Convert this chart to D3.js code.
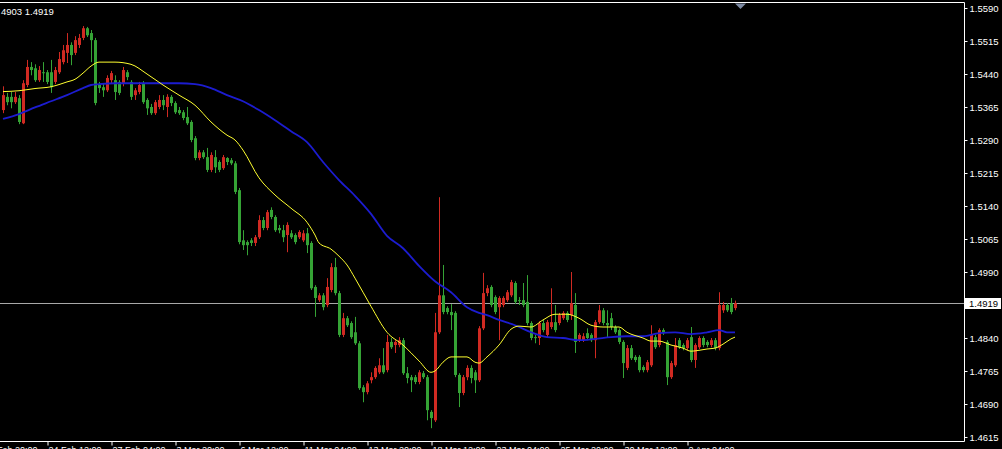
<!DOCTYPE html>
<html><head><meta charset="utf-8">
<script src="https://cdn.jsdelivr.net/npm/d3@7"></script>
<style>
html,body{margin:0;padding:0;background:#000;overflow:hidden;}
svg{display:block;}
text{font-family:"Liberation Sans",Arial,sans-serif;}
</style></head>
<body><svg id="c" width="1002" height="449"></svg>
<script>
const opens=[1.5358,1.5388,1.5388,1.5376,1.5385,1.5328,1.5415,1.5456,1.5453,1.5426,
1.5444,1.5444,1.5444,1.5422,1.5444,1.5467,1.5488,1.5506,1.5488,1.5506,
1.5522,1.5544,1.5533,1.5517,1.5415,1.5410,1.5403,1.5426,1.5426,1.5422,
1.5419,1.5444,1.5422,1.5392,1.5399,1.5419,1.5381,1.5365,1.5351,1.5365,
1.5381,1.5365,1.5388,1.5374,1.5358,1.5353,1.5342,1.5331,1.5294,1.5249,
1.5262,1.5251,1.5222,1.5251,1.5240,1.5226,1.5249,1.5244,1.5237,1.5176,
1.5062,1.5058,1.5062,1.5056,1.5069,1.5108,1.5090,1.5131,1.5115,1.5090,
1.5085,1.5074,1.5078,1.5074,1.5069,1.5062,1.5078,1.5056,1.4956,1.4926,
1.4937,1.4915,1.4949,1.5001,1.4942,1.4847,1.4885,1.4874,1.4853,1.4828,
1.4728,1.4717,1.4744,1.4751,1.4762,1.4778,1.4767,1.4831,1.4824,1.4824,
1.4835,1.4760,1.4751,1.4751,1.4740,1.4760,1.4751,1.4672,1.4653,1.4853,
1.4937,1.4908,1.4899,1.4897,1.4756,1.4715,1.4751,1.4772,1.4762,1.4744,
1.4862,1.4942,1.4956,1.4933,1.4910,1.4915,1.4926,1.4937,1.4965,1.4926,
1.4926,1.4922,1.4874,1.4842,1.4840,1.4874,1.4847,1.4865,1.4876,1.4874,
1.4885,1.4897,1.4892,1.4915,1.4835,1.4835,1.4851,1.4847,1.4835,1.4876,
1.4903,1.4874,1.4885,1.4865,1.4858,1.4831,1.4772,1.4817,1.4797,1.4797,
1.4774,1.4767,1.4778,1.4842,1.4824,1.4858,1.4831,1.4751,1.4778,1.4835,
1.4824,1.4817,1.4842,1.4790,1.4819,1.4840,1.4831,1.4824,1.4835,1.4817,
1.4903,1.4915,1.4919,1.4908];
const highs=[1.5412,1.5397,1.5399,1.5399,1.5392,1.5426,1.5472,1.5467,1.5462,1.5458,
1.5467,1.5449,1.5472,1.5456,1.5490,1.5506,1.5533,1.5512,1.5526,1.5531,
1.5549,1.5547,1.5540,1.5522,1.5422,1.5417,1.5437,1.5447,1.5437,1.5426,
1.5456,1.5449,1.5426,1.5408,1.5422,1.5424,1.5385,1.5372,1.5381,1.5392,
1.5392,1.5394,1.5392,1.5378,1.5365,1.5358,1.5365,1.5335,1.5299,1.5267,
1.5267,1.5272,1.5262,1.5267,1.5244,1.5256,1.5251,1.5249,1.5242,1.5181,
1.5085,1.5062,1.5067,1.5074,1.5119,1.5115,1.5131,1.5137,1.5119,1.5097,
1.5097,1.5103,1.5085,1.5078,1.5085,1.5085,1.5090,1.5060,1.4960,1.4942,
1.4942,1.4976,1.5010,1.5022,1.4947,1.4897,1.4890,1.4878,1.4888,1.4833,
1.4733,1.4742,1.4762,1.4776,1.4794,1.4817,1.4847,1.4840,1.4835,1.4842,
1.4840,1.4774,1.4756,1.4756,1.4767,1.4765,1.4756,1.4676,1.4897,1.5160,
1.5006,1.4912,1.4917,1.4901,1.4760,1.4756,1.4778,1.4778,1.4767,1.4867,
1.4988,1.4960,1.4960,1.4937,1.4935,1.4935,1.4949,1.4972,1.4969,1.4933,
1.4965,1.4983,1.4878,1.4847,1.4878,1.4881,1.4881,1.4953,1.4915,1.4897,
1.4901,1.4901,1.4990,1.4942,1.4851,1.4851,1.4862,1.4851,1.4881,1.4915,
1.4908,1.4903,1.4897,1.4869,1.4862,1.4835,1.4824,1.4824,1.4801,1.4801,
1.4778,1.4790,1.4869,1.4847,1.4862,1.4862,1.4835,1.4788,1.4840,1.4840,
1.4828,1.4840,1.4865,1.4828,1.4844,1.4844,1.4835,1.4840,1.4840,1.4944,
1.4922,1.4919,1.4931,1.4925];
const lows=[1.5351,1.5369,1.5362,1.5372,1.5326,1.5326,1.5410,1.5437,1.5422,1.5422,
1.5422,1.5417,1.5397,1.5417,1.5440,1.5462,1.5465,1.5460,1.5483,1.5499,
1.5517,1.5524,1.5467,1.5369,1.5397,1.5388,1.5399,1.5419,1.5381,1.5392,
1.5412,1.5426,1.5381,1.5381,1.5394,1.5372,1.5347,1.5347,1.5347,1.5360,
1.5358,1.5342,1.5367,1.5349,1.5347,1.5335,1.5324,1.5285,1.5244,1.5244,
1.5247,1.5217,1.5217,1.5215,1.5217,1.5222,1.5233,1.5233,1.5167,1.5053,
1.5040,1.5028,1.5049,1.5049,1.5065,1.5085,1.5085,1.5110,1.5081,1.5078,
1.5058,1.5035,1.5065,1.5053,1.5065,1.5058,1.5033,1.4949,1.4888,1.4922,
1.4903,1.4910,1.4944,1.4937,1.4842,1.4842,1.4865,1.4838,1.4824,1.4722,
1.4694,1.4712,1.4737,1.4747,1.4758,1.4758,1.4762,1.4815,1.4806,1.4819,
1.4756,1.4737,1.4717,1.4735,1.4735,1.4747,1.4653,1.4635,1.4649,1.4849,
1.4894,1.4894,1.4858,1.4751,1.4683,1.4710,1.4744,1.4737,1.4715,1.4740,
1.4858,1.4935,1.4910,1.4894,1.4835,1.4910,1.4922,1.4933,1.4917,1.4915,
1.4910,1.4869,1.4835,1.4828,1.4824,1.4853,1.4842,1.4860,1.4853,1.4869,
1.4881,1.4876,1.4881,1.4806,1.4831,1.4831,1.4835,1.4831,1.4794,1.4872,
1.4869,1.4842,1.4858,1.4849,1.4826,1.4749,1.4767,1.4790,1.4785,1.4762,
1.4762,1.4762,1.4774,1.4815,1.4819,1.4847,1.4733,1.4747,1.4774,1.4815,
1.4812,1.4812,1.4785,1.4772,1.4815,1.4819,1.4819,1.4819,1.4812,1.4812,
1.4897,1.4899,1.4894,1.4903];
const closes=[1.5392,1.5376,1.5376,1.5388,1.5331,1.5419,1.5456,1.5449,1.5426,1.5449,
1.5442,1.5422,1.5410,1.5449,1.5474,1.5494,1.5506,1.5483,1.5517,1.5522,
1.5544,1.5528,1.5517,1.5374,1.5408,1.5403,1.5431,1.5442,1.5399,1.5397,
1.5449,1.5433,1.5388,1.5403,1.5415,1.5376,1.5362,1.5351,1.5376,1.5381,
1.5369,1.5388,1.5374,1.5353,1.5351,1.5340,1.5328,1.5290,1.5249,1.5262,
1.5251,1.5222,1.5256,1.5228,1.5222,1.5251,1.5240,1.5237,1.5172,1.5058,
1.5051,1.5051,1.5056,1.5069,1.5108,1.5090,1.5126,1.5115,1.5085,1.5085,
1.5069,1.5097,1.5069,1.5058,1.5081,1.5078,1.5051,1.4953,1.4931,1.4937,
1.4910,1.4956,1.5001,1.4942,1.4847,1.4885,1.4869,1.4842,1.4828,1.4726,
1.4717,1.4737,1.4751,1.4772,1.4778,1.4762,1.4831,1.4819,1.4831,1.4835,
1.4760,1.4749,1.4744,1.4740,1.4762,1.4751,1.4676,1.4658,1.4853,1.4937,
1.4899,1.4899,1.4892,1.4756,1.4715,1.4751,1.4772,1.4749,1.4744,1.4862,
1.4942,1.4953,1.4915,1.4899,1.4931,1.4931,1.4944,1.4967,1.4922,1.4924,
1.4915,1.4874,1.4840,1.4840,1.4874,1.4858,1.4876,1.4876,1.4858,1.4892,
1.4897,1.4881,1.4919,1.4831,1.4847,1.4844,1.4840,1.4835,1.4876,1.4903,
1.4874,1.4869,1.4865,1.4853,1.4831,1.4783,1.4817,1.4794,1.4790,1.4767,
1.4767,1.4785,1.4847,1.4819,1.4858,1.4851,1.4751,1.4783,1.4824,1.4819,
1.4817,1.4835,1.4790,1.4824,1.4840,1.4824,1.4824,1.4835,1.4817,1.4915,
1.4915,1.4903,1.4899,1.4919];

const fastIdx=[0,4,8,12,16,18,20,22,24,28,32,36,40,44,48,52,56,58,60,64,68,72,76,78,79,82,84,86,88,92,96,100,104,107,108,110,112,116,118,119,121,124,127,129,132,135,138,141,144,147,150,154,156,160,162,164,167,170,172,174,176,178,180,182,183];
const fastMA=[1.5400,1.5402,1.5407,1.5411,1.5422,1.5428,1.5442,1.5458,1.5467,1.5467,1.5462,1.5440,1.5415,1.5392,1.5369,1.5331,1.5301,1.5290,1.5267,1.5204,1.5165,1.5135,1.5103,1.5074,1.5056,1.5042,1.5026,1.5006,1.4976,1.4912,1.4853,1.4824,1.4788,1.4762,1.4765,1.4785,1.4797,1.4797,1.4785,1.4783,1.4797,1.4824,1.4860,1.4867,1.4865,1.4881,1.4894,1.4894,1.4885,1.4869,1.4865,1.4865,1.4853,1.4840,1.4833,1.4833,1.4824,1.4817,1.4810,1.4812,1.4815,1.4817,1.4826,1.4838,1.4842];
const slowIdx=[0,4,8,12,16,20,22,24,28,36,44,48,52,56,60,64,68,72,76,80,84,88,92,96,100,104,108,112,116,119,121,124,128,132,136,140,144,148,152,156,160,164,168,172,176,179,181,183];
const slowMA=[1.5338,1.5349,1.5364,1.5378,1.5392,1.5408,1.5415,1.5417,1.5419,1.5419,1.5419,1.5417,1.5408,1.5392,1.5378,1.5358,1.5335,1.5310,1.5285,1.5240,1.5199,1.5163,1.5122,1.5072,1.5044,1.5004,1.4969,1.4944,1.4910,1.4897,1.4892,1.4881,1.4869,1.4853,1.4842,1.4840,1.4835,1.4838,1.4842,1.4844,1.4844,1.4851,1.4853,1.4849,1.4853,1.4858,1.4853,1.4853];

const priceTicks=[1.5590,1.5515,1.5440,1.5365,1.5290,1.5215,1.5140,1.5065,1.4990,1.4840,1.4765,1.4690,1.4615];
const timeIdx=[-5,11,27,43,59,75,91,107,123,139,155,171];
const timeLabels=["20 Feb 20:00","24 Feb 12:00","27 Feb 04:00","3 Mar 20:00","6 Mar 12:00","11 Mar 04:00","13 Mar 20:00","18 Mar 12:00","23 Mar 04:00","25 Mar 20:00","30 Mar 12:00","2 Apr 04:00"];
const currentPrice=1.4919;
const headerText="4903 1.4919";

const svg=d3.select("#c");
const x=d3.scaleLinear().domain([0,183]).range([3,735]);
const y=d3.scaleLinear().domain([1.4615,1.5590]).range([437,8]);
const UP="#d02a22", DOWN="#35a335";

const candles=opens.map((o,i)=>({i,o,h:highs[i],l:lows[i],c:closes[i]}));

// current price line
svg.append("line").attr("x1",0).attr("x2",964).attr("y1",Math.round(y(currentPrice))+0.5).attr("y2",Math.round(y(currentPrice))+0.5)
  .attr("stroke","#a8a8a8").attr("stroke-width",1);

const g=svg.append("g");
g.selectAll("line.w").data(candles).enter().append("line")
  .attr("x1",d=>Math.round(x(d.i))+0.5).attr("x2",d=>Math.round(x(d.i))+0.5)
  .attr("y1",d=>y(d.h)).attr("y2",d=>y(d.l))
  .attr("stroke",d=>d.c>=d.o?UP:DOWN).attr("stroke-width",1);
g.selectAll("rect.b").data(candles).enter().append("rect")
  .attr("x",d=>Math.round(x(d.i))-1).attr("width",3)
  .attr("y",d=>y(Math.max(d.o,d.c)))
  .attr("height",d=>Math.max(1,Math.abs(y(d.o)-y(d.c))))
  .attr("fill",d=>d.c>=d.o?UP:DOWN);

const line=d3.line().x(d=>x(d[0])).y(d=>y(d[1])).curve(d3.curveMonotoneX);
svg.append("path").attr("d",line(slowIdx.map((k,j)=>[k,slowMA[j]])))
  .attr("fill","none").attr("stroke","#1c1cd0").attr("stroke-width",1.8);
svg.append("path").attr("d",line(fastIdx.map((k,j)=>[k,fastMA[j]])))
  .attr("fill","none").attr("stroke","#ffff30").attr("stroke-width",1);

// frame
svg.append("path").attr("d","M0,2.5H964.5V441.5H0").attr("fill","none").attr("stroke","#fff").attr("stroke-width",1);

// right axis
const ay=svg.append("g").attr("transform","translate(964.5,0)")
  .call(d3.axisRight(y).tickValues(priceTicks).tickFormat(d3.format(".4f")).tickSize(3).tickPadding(2));
ay.select(".domain").remove();
ay.selectAll("line").attr("stroke","#fff");
ay.selectAll("text").attr("fill","#fff").style("font-size","9.5px").style("font-family","Liberation Sans, Arial, sans-serif");

// bottom axis
const ax=svg.append("g").attr("transform","translate(0,441.5)")
  .call(d3.axisBottom(x).tickValues(timeIdx).tickFormat((d,i)=>timeLabels[i]).tickSize(4));
ax.select(".domain").remove();
ax.selectAll("line").attr("stroke","#fff").attr("transform","translate(0.5,0)");
ax.selectAll("text").attr("fill","#fff").attr("text-anchor","start").attr("x",1).attr("y",11).attr("dy","0")
  .style("font-size","9px").style("font-family","Liberation Sans, Arial, sans-serif");

// current price label
const cy=y(currentPrice);
svg.append("rect").attr("x",965).attr("y",Math.round(cy)-5).attr("width",36).attr("height",11).attr("fill","#fff");
svg.append("text").attr("x",969).attr("y",cy+3.5).attr("fill","#000").style("font-size","9.5px").text(d3.format(".4f")(currentPrice));

// header
svg.append("text").attr("x",1).attr("y",15).attr("fill","#fff").style("font-size","9.5px").text(headerText);
// shift marker
svg.append("path").attr("d","M735,3.5L746,3.5L740.5,9Z").attr("fill","#7d8aa3");
</script></body></html>
